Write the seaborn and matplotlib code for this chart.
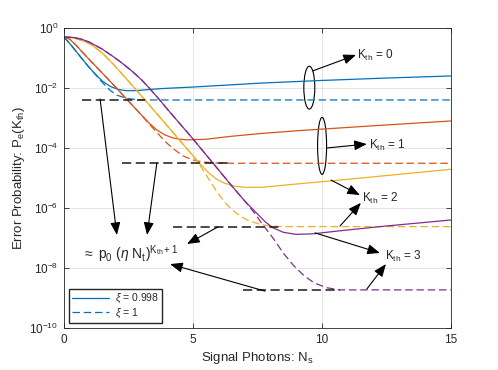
import numpy as np
import pandas as pd
import matplotlib
matplotlib.use("Agg")
import matplotlib.pyplot as plt
import seaborn as sns
from matplotlib.lines import Line2D
from matplotlib.patches import Ellipse
from matplotlib.ticker import NullLocator

# values: signal photons N_s and log10 of P_e(K_th)
# solid = xi 0.998, dashed = xi 1
k0_solid_ns = [0, 0.3, 0.6, 0.9, 1.2, 1.5, 1.8, 2.1, 2.4, 2.8, 3.2, 3.8, 5.0, 7.6, 10, 12.5, 15]
k0_solid_lg = [-0.3, -0.6, -0.92, -1.24, -1.53, -1.78, -1.95, -2.05, -2.09, -2.09, -2.06, -2.02, -1.97, -1.84, -1.75, -1.67, -1.6]
k0_dash_ns = [0, 0.3, 0.6, 0.9, 1.2, 1.4, 1.6, 1.8, 2.05, 2.4, 2.8, 3.2, 15]
k0_dash_lg = [-0.3, -0.6, -0.92, -1.24, -1.53, -1.73, -1.92, -2.09, -2.24, -2.34, -2.39, -2.4, -2.4]

k1_solid_ns = [0, 0.2, 0.45, 0.7, 1.0, 1.5, 2.0, 2.5, 3.0, 3.3, 3.6, 3.9, 4.2, 4.5, 4.8, 5.5, 6.5, 7.6, 9.15, 12, 15]
k1_solid_lg = [-0.3, -0.36, -0.56, -0.8, -1.07, -1.52, -1.97, -2.44, -2.9, -3.17, -3.4, -3.56, -3.66, -3.71, -3.73, -3.71, -3.61, -3.52, -3.42, -3.26, -3.1]
k1_dash_ns = [0, 0.2, 0.45, 0.7, 1.0, 1.5, 2.0, 2.5, 3.0, 3.3, 3.6, 3.9, 4.2, 4.6, 5.0, 5.4, 5.9, 6.5, 15]
k1_dash_lg = [-0.3, -0.36, -0.56, -0.8, -1.07, -1.52, -1.97, -2.44, -2.9, -3.2, -3.48, -3.77, -4.0, -4.26, -4.4, -4.47, -4.5, -4.51, -4.51]

k2_solid_ns = [0, 0.4, 0.8, 1.1, 1.5, 1.9, 2.3, 2.75, 3.3, 3.8, 4.2, 4.6, 5.0, 5.3, 5.6, 5.9, 6.2, 6.6, 7.0, 7.7, 9.15, 10.2, 12.5, 15]
k2_solid_lg = [-0.3, -0.34, -0.45, -0.58, -0.85, -1.2, -1.58, -2.02, -2.56, -3.06, -3.46, -3.86, -4.26, -4.55, -4.82, -5.03, -5.17, -5.27, -5.31, -5.31, -5.19, -5.11, -4.92, -4.71]
k2_dash_ns = [0, 0.4, 0.8, 1.1, 1.5, 1.9, 2.3, 2.75, 3.3, 3.8, 4.2, 4.6, 5.0, 5.3, 5.6, 5.9, 6.2, 6.5, 6.8, 7.1, 7.5, 7.9, 8.4, 15]
k2_dash_lg = [-0.3, -0.34, -0.45, -0.58, -0.85, -1.2, -1.58, -2.02, -2.56, -3.06, -3.46, -3.86, -4.26, -4.62, -5.02, -5.42, -5.78, -6.05, -6.25, -6.4, -6.52, -6.59, -6.62, -6.62]

k3_solid_ns = [0, 0.4, 0.7, 1.0, 1.47, 1.9, 2.25, 2.65, 3.02, 3.3, 3.67, 4.0, 4.4, 5.0, 5.5, 6.0, 6.5, 7.0, 7.5, 7.8, 8.1, 8.5, 9.0, 9.66, 10.7, 12.5, 15]
k3_solid_lg = [-0.3, -0.32, -0.38, -0.48, -0.7, -0.95, -1.17, -1.45, -1.74, -2.0, -2.36, -2.7, -3.1, -3.7, -4.22, -4.74, -5.26, -5.76, -6.2, -6.46, -6.66, -6.81, -6.88, -6.86, -6.76, -6.6, -6.4]
k3_dash_ns = [0, 0.4, 0.7, 1.0, 1.47, 1.9, 2.25, 2.65, 3.02, 3.3, 3.67, 4.0, 4.4, 5.0, 5.5, 6.0, 6.5, 7.0, 7.35, 7.7, 8.1, 8.5, 8.9, 9.3, 9.7, 10.2, 10.7, 15]
k3_dash_lg = [-0.3, -0.32, -0.38, -0.48, -0.7, -0.95, -1.17, -1.45, -1.74, -2.0, -2.36, -2.7, -3.1, -3.7, -4.22, -4.74, -5.26, -5.76, -6.13, -6.55, -7.0, -7.5, -7.92, -8.25, -8.5, -8.66, -8.73, -8.73]

# black dashed approximation p0 (eta Nt)^(Kth+1): start, end, level
approx_start = [0.7, 2.25, 4.22, 6.94]
approx_end = [3.14, 6.43, 8.45, 10.7]
approx_lg = [-2.4, -4.51, -6.62, -8.73]

kth_colors = {"0": "#0072BD", "1": "#D95319", "2": "#EDB120", "3": "#7E2F8E"}

series = [
    ("0", "0.998", k0_solid_ns, k0_solid_lg), ("0", "1", k0_dash_ns, k0_dash_lg),
    ("1", "0.998", k1_solid_ns, k1_solid_lg), ("1", "1", k1_dash_ns, k1_dash_lg),
    ("2", "0.998", k2_solid_ns, k2_solid_lg), ("2", "1", k2_dash_ns, k2_dash_lg),
    ("3", "0.998", k3_solid_ns, k3_solid_lg), ("3", "1", k3_dash_ns, k3_dash_lg),
]
frames = []
for kth, xi, ns, lg in series:
    frames.append(pd.DataFrame({"Ns": ns, "Pe": 10.0 ** np.array(lg), "Kth": kth, "xi": xi}))
curves = pd.concat(frames, ignore_index=True)

approx = pd.DataFrame({
    "Ns": approx_start + approx_end,
    "Pe": list(10.0 ** np.array(approx_lg)) * 2,
    "Kth": [str(k) for k in range(4)] * 2,
})

sns.set_style("ticks")
plt.rcParams["font.family"] = ["Liberation Sans", "DejaVu Sans"]
plt.rcParams["mathtext.fontset"] = "custom"
plt.rcParams["mathtext.rm"] = "Liberation Sans"
plt.rcParams["mathtext.it"] = "Liberation Sans:italic"
plt.rcParams["mathtext.sf"] = "Liberation Sans"

fig = plt.figure(figsize=(4.98, 3.70), dpi=100)
ax = fig.add_axes([0.1285, 0.1135, 0.777, 0.811])

sns.lineplot(data=curves, x="Ns", y="Pe", hue="Kth", style="xi",
             palette=kth_colors, dashes={"0.998": "", "1": (6, 3)},
             estimator=None, sort=False, lw=0.9, legend=False, ax=ax)
sns.lineplot(data=approx, x="Ns", y="Pe", units="Kth", estimator=None,
             color="#1a1a1a", lw=1.1, ax=ax, legend=False)
for ln in ax.lines[-4:]:
    ln.set_dashes((6, 3))

ax.set_yscale("log")
ax.set_xlim(0, 15)
ax.set_ylim(1e-10, 1)
ax.set_xticks([0, 5, 10, 15])
ax.set_yticks([1e-10, 1e-8, 1e-6, 1e-4, 1e-2, 1])
ax.yaxis.set_minor_locator(NullLocator())
ax.tick_params(direction="in", top=True, right=True, length=3.5, width=0.6,
               labelsize=8.5, colors="#262626", pad=4)
ax.grid(True, color="#e0e0e0", lw=0.6)
ax.set_axisbelow(True)
for sp in ax.spines.values():
    sp.set_color("#262626")
    sp.set_linewidth(0.6)

ax.set_xlabel(r"Signal Photons: N$_\mathregular{s}$", fontsize=9.5, color="#262626", labelpad=3)
ax.set_ylabel(r"Error Probability: P$_\mathregular{e}$(K$_\mathregular{th}$)", fontsize=9.5,
              color="#262626", labelpad=2)

# annotations
arrow_kw = dict(arrowstyle="-|>,head_length=0.95,head_width=0.38", color="k", lw=0.8,
                mutation_scale=8, shrinkA=0, shrinkB=0)
arrows = [
    ((9.65, -1.43), (11.32, -0.90)),
    ((10.19, -4.0), (11.74, -3.87)),
    ((10.35, -5.07), (11.47, -5.57)),
    ((10.70, -6.6), (11.51, -5.83)),
    ((9.73, -6.83), (12.25, -7.5)),
    ((11.74, -8.7), (12.48, -7.87)),
    ((1.40, -2.37), (2.05, -6.9)),
    ((3.60, -4.5), (3.22, -6.9)),
    ((5.97, -6.63), (4.77, -7.2)),
    ((7.79, -8.77), (4.11, -7.87)),
]
for (tx, ty), (hx, hy) in arrows:
    ax.annotate("", xy=(hx, 10 ** hy), xytext=(tx, 10 ** ty), arrowprops=arrow_kw)

labels = [(11.36, -0.93, "0"), (11.82, -3.9, "1"), (11.55, -5.67, "2"), (12.44, -7.6, "3")]
for x, y, k in labels:
    ax.text(x, 10 ** y, r"K$_\mathregular{th}$ = " + k, fontsize=8.5, va="center", ha="left")

ax.text(0.70, 10 ** -7.55, r"$\approx\ \mathrm{p_0\ (}\eta\ \mathrm{N_t)^{K_{th}+1}}$",
        fontsize=10, va="center", ha="left")

ax.add_patch(Ellipse((0.634, 0.801), 0.0284, 0.143, transform=ax.transAxes,
                     fill=False, ec="k", lw=0.8))
ax.add_patch(Ellipse((0.667, 0.607), 0.0233, 0.19, transform=ax.transAxes,
                     fill=False, ec="k", lw=0.8))

handles = [Line2D([], [], color=kth_colors["0"], lw=0.9),
           Line2D([], [], color=kth_colors["0"], lw=0.9, dashes=(6, 3))]
ax.legend(handles, [r"$\xi$ = 0.998", r"$\xi$ = 1"], loc="lower left", fontsize=7.5,
          fancybox=False, edgecolor="#262626", framealpha=1, handlelength=3.6,
          borderaxespad=0.45, borderpad=0.3, labelspacing=0.15, handletextpad=0.5)

fig.savefig("out.png", dpi=100)
